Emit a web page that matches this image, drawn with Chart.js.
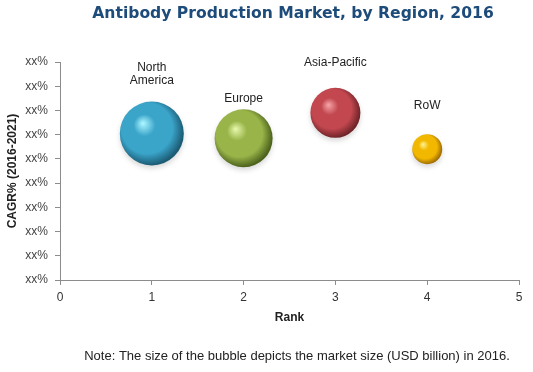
<!DOCTYPE html>
<html>
<head>
<meta charset="utf-8">
<script src="https://cdn.jsdelivr.net/npm/chart.js@4"></script>
<style>
  body { margin: 0; background: #fff; }
</style>
</head>
<body>
<canvas id="grafico" width="533" height="372"></canvas>
<script>
// datos
const regiones = ["North America", "Europe", "Asia-Pacific", "RoW"];
const rango = [1, 2, 3, 4];
const cagr = [6.05, 5.85, 6.9, 5.4];
const tamanoBurbuja = [32, 29, 25, 15];
const etiquetasX = ["0", "1", "2", "3", "4", "5"];
const etiquetaY = "xx%";

// colores de cada esfera: brillo, base, sombra
const coloresBurbuja = [
    ["#a8f4ff", "#3aa4c9", "#1b5a73"],
    ["#e4f5a8", "#99b549", "#4b611c"],
    ["#f4a0a4", "#c2474f", "#6e2428"],
    ["#fff08a", "#f2b800", "#a06c00"]
];

function gradienteEsfera(ctx) {
    var chart = ctx.chart;
    var i = ctx.dataIndex;
    if (i === undefined) return coloresBurbuja[0][1];
    var c = coloresBurbuja[i];
    if (!chart.scales.x || !chart.scales.y) return c[1];
    var x = chart.scales.x.getPixelForValue(rango[i]);
    var y = chart.scales.y.getPixelForValue(cagr[i]);
    var r = tamanoBurbuja[i];
    if (!isFinite(x) || !isFinite(y)) return c[1];
    var g = chart.ctx.createRadialGradient(x - r * 0.28, y - r * 0.32, r * 0.02, x - r * 0.1, y - r * 0.1, r * 1.1);
    g.addColorStop(0, c[0]);
    g.addColorStop(0.3, c[1]);
    g.addColorStop(0.72, c[1]);
    g.addColorStop(1, c[2]);
    return g;
}

const textosPlugin = {
    id: "textos",
    beforeDatasetsDraw(chart) {
        chart.ctx.save();
        chart.ctx.shadowColor = "rgba(0,0,0,0.15)";
        chart.ctx.shadowBlur = 5;
        chart.ctx.shadowOffsetY = 3;
    },
    afterDatasetsDraw(chart, args, opts) {
        var ctx = chart.ctx;
        ctx.restore();
        ctx.save();
        var meta = chart.getDatasetMeta(0);
        ctx.fillStyle = "#222";
        ctx.font = "12px 'Liberation Sans', Arial, sans-serif";
        ctx.textAlign = "center";
        ctx.textBaseline = "middle";
        meta.data.forEach(function (pt, i) {
            var lineas = regiones[i] === "North America" ? ["North", "America"] : [regiones[i]];
            var base = pt.y - opts.desplazamientos[i];
            for (var k = 0; k < lineas.length; k++) {
                ctx.fillText(lineas[k], pt.x, base - (lineas.length - 1 - k) * 13);
            }
        });
        ctx.restore();
    },
    afterDraw(chart) {
        var ctx = chart.ctx;
        ctx.save();
        ctx.textAlign = "center";
        ctx.textBaseline = "middle";
        ctx.fillStyle = "#1d4b7a";
        ctx.font = "bold 15.6px 'DejaVu Sans', Verdana, sans-serif";
        ctx.fillText("Antibody Production Market, by Region, 2016", 293, 14);
        ctx.fillStyle = "#222";
        ctx.font = "13px 'Liberation Sans', Arial, sans-serif";
        ctx.fillText("Note: The size of the bubble depicts the market size (USD billion) in 2016.", 297, 356);
        ctx.restore();
    }
};

var ctx = document.getElementById("grafico").getContext("2d");
var burbujas = new Chart(ctx, {
    type: "bubble",
    data: {
        datasets: [{
            label: "Regiones",
            data: rango.map(function (x, i) {
                return { x: x, y: cagr[i], r: tamanoBurbuja[i] };
            }),
            backgroundColor: gradienteEsfera,
            borderWidth: 0,
            hoverRadius: 0
        }]
    },
    plugins: [textosPlugin],
    options: {
        responsive: false,
        animation: false,
        layout: {
            autoPadding: false,
            padding: { top: 62, bottom: 47, left: 0, right: 14 }
        },
        plugins: {
            legend: { display: false },
            tooltip: { enabled: false },
            textos: { desplazamientos: [53, 40, 50, 44] }
        },
        scales: {
            x: {
                type: "linear",
                min: 0,
                max: 5,
                afterFit: function (s) { s.height = 45; },
                ticks: {
                    stepSize: 1,
                    padding: 5,
                    color: "#333",
                    font: { family: "'Liberation Sans', Arial", size: 12 },
                    callback: function (v) { return etiquetasX[v]; }
                },
                grid: {
                    drawOnChartArea: false,
                    tickLength: 5,
                    color: "#8c8c8c"
                },
                border: { color: "#8c8c8c" },
                title: {
                    display: true,
                    text: "Rank",
                    color: "#222",
                    font: { family: "'Liberation Sans', Arial", size: 12, weight: "bold" },
                    padding: { top: 0, bottom: 0 }
                }
            },
            y: {
                min: 0,
                max: 9,
                afterFit: function (s) { s.width = 60; },
                ticks: {
                    stepSize: 1,
                    padding: 7,
                    color: "#444",
                    font: { family: "'Liberation Sans', Arial", size: 12 },
                    callback: function () { return etiquetaY; }
                },
                grid: {
                    drawOnChartArea: false,
                    tickLength: 5,
                    color: "#8c8c8c"
                },
                border: { color: "#8c8c8c" },
                title: {
                    display: true,
                    text: "CAGR% (2016-2021)",
                    color: "#222",
                    font: { family: "'Liberation Sans', Arial", size: 12, weight: "bold" },
                    padding: { top: 5, bottom: 0 }
                }
            }
        }
    }
});
</script>
</body>
</html>
